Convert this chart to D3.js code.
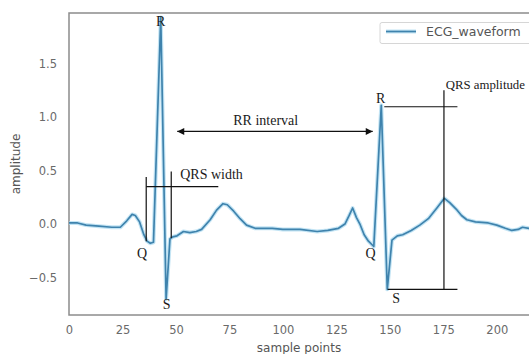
<!DOCTYPE html>
<html>
<head>
<meta charset="utf-8">
<script src="https://cdn.jsdelivr.net/npm/d3@7"></script>
<style>
  html, body { margin: 0; padding: 0; background: #fff; }
  svg { display: block; }
</style>
</head>
<body>
<div id="chart"></div>
<script>
// ECG trace (sample point, amplitude)
const samplePoints = [0, 4, 8, 14, 20, 24, 27, 29.5, 31, 33, 35, 36.5, 38, 39.5, 42.9, 45.4, 47.2, 48.5, 50.5, 53.5,
  56.5, 59.5, 62, 66, 69, 72, 74, 77, 80, 83, 87, 95, 100, 108, 116, 121, 126, 129, 131, 132.6,
  134.4, 136, 138, 140, 142.5, 146, 148.8, 151, 153.5, 156, 160, 164, 168, 172, 175.5, 178, 181, 183.5, 186, 190,
  196, 200, 204, 207, 210, 212, 215, 217];
const amplitude = [0.01, 0.01, -0.01, -0.02, -0.03, -0.03, 0.03, 0.09, 0.08, 0.02, -0.10, -0.16, -0.18, -0.17, 1.93, -0.70, -0.14, -0.12, -0.11, -0.07,
  -0.08, -0.07, -0.05, 0.04, 0.13, 0.19, 0.18, 0.12, 0.05, -0.01, -0.04, -0.04, -0.05, -0.05, -0.07, -0.06, -0.04, 0.00, 0.08, 0.15,
  0.06, 0.00, -0.10, -0.16, -0.21, 1.11, -0.61, -0.15, -0.11, -0.10, -0.06, -0.01, 0.05, 0.15, 0.24, 0.20, 0.14, 0.08, 0.04, 0.02,
  0.01, -0.01, -0.04, -0.06, -0.05, -0.03, -0.04, -0.03];

const xTicks = [0, 25, 50, 75, 100, 125, 150, 175, 200];
const yTicks = [-0.5, 0.0, 0.5, 1.0, 1.5];
const seriesName = 'ECG_waveform';

// annotation segments in data units: [x1, y1, x2, y2]
const qrsWidthLines = [[36.1, -0.16, 36.1, 0.44], [47.8, -0.13, 47.8, 0.49], [36.1, 0.35, 69.8, 0.35]];
const qrsAmpLines = [[147.4, 1.096, 181.6, 1.096], [175.3, 1.25, 175.3, -0.61], [149, -0.61, 181.6, -0.61]];
const rrArrow = [50.6, 0.865, 142, 0.865];
// labels: [text, x, y(baseline), anchor]
const annoLabels = [
  ['R', 42.9, 1.85, 'middle'], ['Q', 34.2, -0.32, 'middle'], ['S', 45.7, -0.79, 'middle'],
  ['R', 145.7, 1.13, 'middle'], ['Q', 141, -0.32, 'middle'], ['S', 153, -0.74, 'middle'],
  ['RR interval', 76.8, 0.925, 'start'], ['QRS width', 52, 0.42, 'start'], ['QRS amplitude', 176.1, 1.26, 'start']
];

const W = 529, H = 354;
const margin = { top: 13, right: -2, bottom: 39, left: 69 };

const svg = d3.select('#chart').append('svg')
  .attr('width', W).attr('height', H)
  .style('font-family', '"DejaVu Sans", sans-serif');

const x = d3.scaleLinear().domain([0, 216]).range([margin.left, W - margin.right]);
const y = d3.scaleLinear().domain([-0.85, 1.972]).range([H - margin.bottom, margin.top]);

// frame (spines)
svg.append('rect')
  .attr('x', x(0)).attr('y', y(1.972))
  .attr('width', x(216) - x(0)).attr('height', y(-0.85) - y(1.972))
  .attr('fill', 'none').attr('stroke', '#8c8c8c').attr('stroke-width', 1.5);

// axes (no tick marks, seaborn white style)
const xAxis = svg.append('g')
  .attr('transform', `translate(0,${y(-0.85)})`)
  .call(d3.axisBottom(x).tickValues(xTicks).tickSize(0).tickPadding(11).tickFormat(d3.format('d')));
xAxis.select('.domain').remove();
xAxis.selectAll('text').style('font-size', '11.5px').style('fill', '#6a6a6a').style('font-family', '"DejaVu Sans", sans-serif');

const yAxis = svg.append('g')
  .attr('transform', `translate(${margin.left - 12},0)`)
  .call(d3.axisLeft(y).tickValues(yTicks).tickSize(0).tickPadding(0).tickFormat(d3.format('.1f')));
yAxis.select('.domain').remove();
yAxis.selectAll('text').style('font-size', '11.5px').style('fill', '#6a6a6a').style('font-family', '"DejaVu Sans", sans-serif');

svg.append('text')
  .attr('x', (x(0) + W) / 2).attr('y', 352)
  .attr('text-anchor', 'middle')
  .style('font-size', '12px').style('fill', '#555')
  .text('sample points');

svg.append('text')
  .attr('transform', `translate(20,${(y(1.972) + y(-0.85)) / 2}) rotate(-90)`)
  .attr('text-anchor', 'middle')
  .style('font-size', '12px').style('fill', '#555')
  .text('amplitude');

// waveform
const pts = samplePoints.map((s, i) => [s, amplitude[i]]);
const line = d3.line().x(d => x(d[0])).y(d => y(d[1]));

svg.append('path').datum(pts)
  .attr('d', line).attr('fill', 'none')
  .attr('stroke', '#a9d9ef').attr('stroke-width', 4).attr('stroke-opacity', 0.7)
  .attr('stroke-linejoin', 'round');
svg.append('path').datum(pts)
  .attr('d', line).attr('fill', 'none')
  .attr('stroke', '#3f83ad').attr('stroke-width', 1.7)
  .attr('stroke-linejoin', 'round');

// annotation lines
svg.selectAll('.anno-line')
  .data(qrsWidthLines.concat(qrsAmpLines))
  .join('line')
  .attr('class', 'anno-line')
  .attr('x1', d => x(d[0])).attr('y1', d => y(d[1]))
  .attr('x2', d => x(d[2])).attr('y2', d => y(d[3]))
  .attr('stroke', '#111').attr('stroke-width', 1.2);

// RR arrow
const defs = svg.append('defs');
['start', 'end'].forEach(k => {
  defs.append('marker')
    .attr('id', 'arrow-' + k)
    .attr('viewBox', '0 0 10 10')
    .attr('refX', 10).attr('refY', 5)
    .attr('markerWidth', 8).attr('markerHeight', 7)
    .attr('markerUnits', 'userSpaceOnUse')
    .attr('orient', k === 'end' ? 'auto' : 'auto-start-reverse')
    .append('path').attr('d', 'M0,0 L10,5 L0,10 Z').attr('fill', '#111');
});
svg.append('line')
  .attr('x1', x(rrArrow[0])).attr('y1', y(rrArrow[1]))
  .attr('x2', x(rrArrow[2])).attr('y2', y(rrArrow[3]))
  .attr('stroke', '#111').attr('stroke-width', 1.3)
  .attr('marker-start', 'url(#arrow-start)')
  .attr('marker-end', 'url(#arrow-end)');

// annotation labels (the long one near the right edge is a touch smaller so it stays inside)
svg.selectAll('.anno-label')
  .data(annoLabels)
  .join('text')
  .attr('class', 'anno-label')
  .attr('x', d => x(d[1])).attr('y', d => y(d[2]))
  .attr('text-anchor', d => d[3])
  .style('font-family', '"Liberation Serif", "Times New Roman", serif')
  .style('font-size', d => d[0] === 'QRS amplitude' ? '12.8px' : '14px')
  .style('fill', '#1a1a1a')
  .text(d => d[0]);

// legend
const lg = svg.append('g').attr('transform', 'translate(380,22.5)');
lg.append('rect')
  .attr('width', 152).attr('height', 21).attr('rx', 2)
  .attr('fill', '#fff').attr('stroke', '#d6d6d6');
lg.append('line')
  .attr('x1', 6).attr('x2', 36).attr('y1', 9).attr('y2', 9)
  .attr('stroke', '#a9d9ef').attr('stroke-width', 4).attr('stroke-opacity', 0.7);
lg.append('line')
  .attr('x1', 6).attr('x2', 36).attr('y1', 9).attr('y2', 9)
  .attr('stroke', '#3f83ad').attr('stroke-width', 1.7);
lg.append('text')
  .attr('x', 46).attr('y', 13)
  .style('font-size', '12.5px').style('fill', '#555')
  .text(seriesName);
</script>
</body>
</html>
